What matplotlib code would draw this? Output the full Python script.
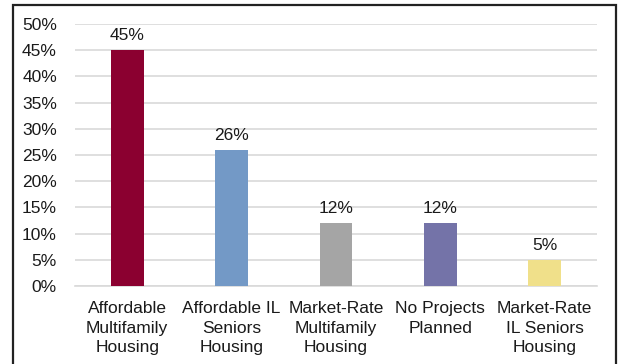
import matplotlib.pyplot as plt
from matplotlib.patches import Rectangle

categories = ['Affordable\nMultifamily\nHousing', 'Affordable IL\nSeniors\nHousing',
              'Market-Rate\nMultifamily\nHousing', 'No Projects\nPlanned',
              'Market-Rate\nIL Seniors\nHousing']
values = [45, 26, 12, 12, 5]
colors = ['#8B0030', '#7399C6', '#A5A5A5', '#7473A8', '#F0E08A']
yticks = [0, 5, 10, 15, 20, 25, 30, 35, 40, 45, 50]

plt.rcParams['font.family'] = ['Liberation Sans', 'DejaVu Sans']
FS = 12.5

fig = plt.figure(figsize=(6.21, 3.64), dpi=100)
ax = fig.add_axes([75 / 621, 1 - 286 / 364, 522 / 621, 262 / 364])

x = range(len(values))
ax.bar(x, values, width=0.316, color=colors, zorder=3)
for i, v in zip(x, values):
    ax.text(i, v + 1.3, f'{v}%', ha='center', va='bottom', fontsize=FS, color='#1a1a1a')

ax.set_xlim(-0.5, len(values) - 0.5)
ax.set_ylim(0, 50)
ax.set_yticks(yticks)
ax.set_yticklabels([f'{t}%' for t in yticks], fontsize=FS, color='#1a1a1a')
ax.set_xticks(list(x))
ax.set_xticklabels(categories, fontsize=FS, color='#1a1a1a', linespacing=1.38)
ax.tick_params(axis='y', length=0, pad=13)
ax.tick_params(axis='x', length=0, pad=11)
ax.yaxis.grid(True, color='#D9D9D9', linewidth=1.2, zorder=0)
for s in ['top', 'left', 'right']:
    ax.spines[s].set_visible(False)
ax.spines['bottom'].set_color('#D9D9D9')
ax.spines['bottom'].set_linewidth(1.2)

# outer frame around the chart
fig.patches.append(Rectangle((12.5 / 621, -0.05), 603 / 621, 1.05 - 5.5 / 364,
                             transform=fig.transFigure, fill=False,
                             edgecolor='#222222', linewidth=1.6))

fig.savefig('out.png', dpi=100)
